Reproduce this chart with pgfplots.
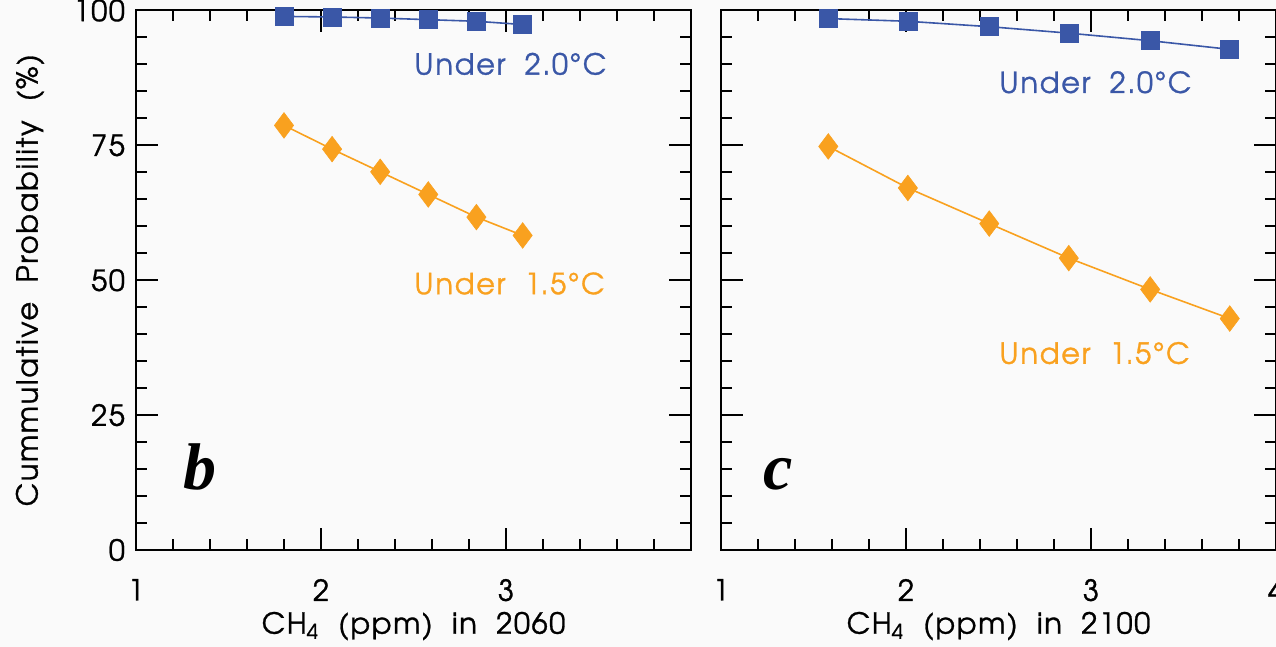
\documentclass[border=0pt]{standalone}
\usepackage{fontspec}
\setmainfont{TeX Gyre Adventor}[LetterSpace=5.5, WordSpace=2, FakeBold=1]
\newfontfamily\serifbi{Liberation Serif}
\usepackage{pgfplots}
\pgfplotsset{compat=1.18}
\definecolor{bgc}{HTML}{FAFAFA}
\definecolor{cblue}{HTML}{3A57A7}
\definecolor{corange}{HTML}{F9A11F}

\pgfplotstableread{
x y
1.80 98.9
2.06 98.8
2.32 98.6
2.58 98.3
2.84 98.0
3.09 97.4
}\bluebt
\pgfplotstableread{
x y
1.80 78.7
2.06 74.3
2.32 70.1
2.58 65.9
2.84 61.7
3.09 58.3
}\orangebt
\pgfplotstableread{
x y
1.58 98.5
2.01 98.0
2.45 97.0
2.88 95.8
3.32 94.4
3.75 92.8
}\bluect
\pgfplotstableread{
x y
1.58 74.8
2.01 67.1
2.45 60.5
2.88 54.1
3.32 48.3
3.75 42.9
}\orangect

\tikzset{
  lab/.style={font=\fontsize{14.5}{17}\selectfont, anchor=west, inner sep=0pt},
  pl/.style={font=\serifbi\bfseries\itshape\fontsize{33}{36}\selectfont, anchor=base west, inner sep=0pt},
}
\pgfplotsset{
  panel/.style={
    scale only axis,
    width=277.5pt, height=269.75pt,
    xmin=1, xmax=4, ymin=0, ymax=100,
    xtick={1,2,3,4}, ytick={0,25,50,75,100},
    minor x tick num=4, minor y tick num=4,
    tick align=inside, tick pos=both,
    major tick length=11pt, minor tick length=5.5pt,
    axis line style={line width=1pt, black},
    every tick/.style={line width=1pt, black},
    every minor tick/.style={line width=1pt, black},
    axis background/.style={fill=bgc},
    tick label style={font=\fontsize{14.5}{17}\selectfont},
    label style={font=\fontsize{14.5}{17}\selectfont},
    /pgf/number format/assume math mode=true,
    xticklabel style={yshift=-11pt},
    yticklabel style={xshift=-2pt},
    xlabel style={at={(axis description cs:0.5,-0.141)}, anchor=center},
    ylabel style={at={(axis description cs:-0.191,0.5)}, anchor=center},
    clip=false,
  },
  bl/.style={color=cblue, line width=0.8pt, mark=square*, mark size=4.5pt, mark options={fill=cblue, draw=cblue, line width=0.3pt}},
  og/.style={color=corange, line width=0.8pt, mark=diamond*, mark size=6.4pt, mark options={fill=corange, draw=corange, line width=0.3pt}},
}

\begin{document}
\begin{tikzpicture}
\fill[bgc] (0,0) rectangle (638pt,323.5pt);
\useasboundingbox (0,0) rectangle (638pt,323.5pt);

\begin{axis}[panel, at={(68pt,48.5pt)}, anchor=south west,
  xticklabels={1,2,3,},
  xlabel={CH\textsubscript{4} (ppm) in 2060},
  ylabel={Cummulative Probability (\%)}]
\addplot[bl] table[x=x,y=y] {\bluebt};
\addplot[og] table[x=x,y=y] {\orangebt};
\node[lab, text=cblue] at (axis cs:2.503,90.1) {Under 2.0°C};
\node[lab, text=corange] at (axis cs:2.503,49.4) {Under 1.5°C};
\node[pl] at (axis cs:1.254,11.3) {b};
\end{axis}

\begin{axis}[panel, at={(360.5pt,48.5pt)}, anchor=south west,
  xticklabels={1,2,3,4},
  yticklabels={},
  xlabel={CH\textsubscript{4} (ppm) in 2100}]
\addplot[bl] table[x=x,y=y] {\bluect};
\addplot[og] table[x=x,y=y] {\orangect};
\node[lab, text=cblue] at (axis cs:2.503,86.7) {Under 2.0°C};
\node[lab, text=corange] at (axis cs:2.503,36.5) {Under 1.5°C};
\node[pl] at (axis cs:1.227,11.3) {c};
\end{axis}
\end{tikzpicture}
\end{document}
